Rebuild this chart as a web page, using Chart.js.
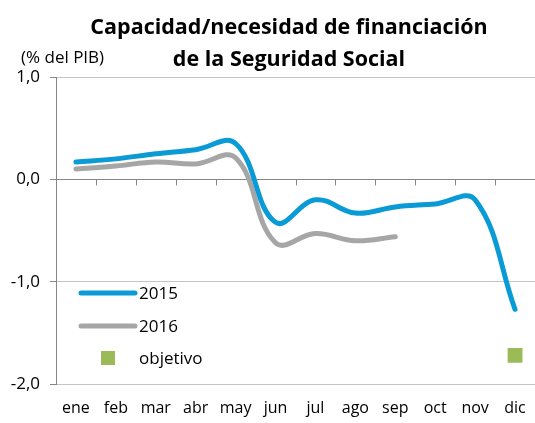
<!DOCTYPE html>
<html><head><meta charset="utf-8">
<script src="https://cdn.jsdelivr.net/npm/chart.js@4"></script>
<style>html,body{margin:0;padding:0;background:#fff}#wrap{width:535px;height:423px;position:relative}</style>
</head><body><div id="wrap"><canvas id="c" width="535" height="423"></canvas></div>
<script>
const categories = ['ene','feb','mar','abr','may','jun','jul','ago','sep','oct','nov','dic'];
const serie2015 = [0.17, 0.20, 0.25, 0.29, 0.35, -0.42, -0.20, -0.33, -0.27, -0.24, -0.20, -1.27];
const serie2016 = [0.10, 0.13, 0.17, 0.15, 0.21, -0.62, -0.53, -0.60, -0.56, null, null, null];
const objetivo = [null, null, null, null, null, null, null, null, null, null, null, -1.72];
const yTicks = [-2, -1, 0, 1];
const titleLines = ['Capacidad/necesidad de financiación', 'de la Seguridad Social'];
const unitLabel = '(% del PIB)';

const FONT = '"Open Sans", sans-serif';
const BLUE = '#0a9bd6', GRAY = '#a6a6a6', GREEN = '#9bbb59';

const decor = {
  id: 'decor',
  beforeDatasetsDraw(chart) {
    const ctx = chart.ctx, xs = chart.scales.x, ys = chart.scales.y;
    const y0 = ys.getPixelForValue(0);
    ctx.save();
    ctx.strokeStyle = '#868686'; ctx.lineWidth = 1;
    const n = categories.length, w = (xs.right - xs.left) / n;
    ctx.beginPath();
    for (let i = 1; i < n; i++) {
      const x = Math.round(xs.left + i * w) + 0.5;
      ctx.moveTo(x, y0); ctx.lineTo(x, y0 + 6);
    }
    ctx.stroke();
    ctx.restore();
  },
  afterDraw(chart) {
    const ctx = chart.ctx;
    ctx.save();
    ctx.fillStyle = '#000';
    ctx.textAlign = 'center'; ctx.textBaseline = 'alphabetic';
    ctx.font = 'bold 21.5px ' + FONT;
    ctx.fillText(titleLines[0], 289, 34);
    ctx.fillText(titleLines[1], 289, 66);
    ctx.font = '17px ' + FONT;
    ctx.textAlign = 'left';
    ctx.fillText(unitLabel, 21, 63);
    const items = [
      {label: chart.data.datasets[0].label, type: 'line', color: BLUE, y: 293},
      {label: chart.data.datasets[1].label, type: 'line', color: GRAY, y: 326},
      {label: chart.data.datasets[2].label, type: 'rect', color: GREEN, y: 358}
    ];
    ctx.textBaseline = 'middle';
    items.forEach(it => {
      if (it.type === 'line') {
        ctx.strokeStyle = it.color; ctx.lineWidth = 5; ctx.lineCap = 'round';
        ctx.beginPath(); ctx.moveTo(81, it.y); ctx.lineTo(135, it.y); ctx.stroke();
      } else {
        ctx.fillStyle = it.color;
        ctx.fillRect(101, it.y - 7, 14, 14);
      }
      ctx.fillStyle = '#000';
      ctx.fillText(it.label, 139, it.y + 1);
    });
    ctx.restore();
  }
};

new Chart(document.getElementById('c'), {
  type: 'line',
  data: {
    labels: categories,
    datasets: [
      {label: '2015', data: serie2015, borderColor: BLUE, borderWidth: 5, tension: 0.4, pointRadius: 0, borderCapStyle: 'round', fill: false},
      {label: '2016', data: serie2016, borderColor: GRAY, borderWidth: 5, tension: 0.4, pointRadius: 0, borderCapStyle: 'round', fill: false},
      {label: 'objetivo', data: objetivo, showLine: false, pointStyle: 'rect', pointRadius: 10.5, pointBackgroundColor: GREEN, pointBorderColor: GREEN, pointBorderWidth: 0, borderColor: GREEN}
    ]
  },
  options: {
    responsive: false, animation: false,
    layout: {autoPadding: false, padding: {top: 77, right: 0, left: 0, bottom: 0}},
    plugins: {legend: {display: false}, title: {display: false}, tooltip: {enabled: false}},
    scales: {
      x: {
        offset: true,
        grid: {display: false, drawTicks: false},
        border: {display: false},
        ticks: {color: '#000', font: {family: FONT, size: 16}, padding: 15, maxRotation: 0, autoSkip: false},
        afterFit(s) { s.height = 39; s.paddingLeft = 0; s.paddingRight = 0; }
      },
      y: {
        min: -2, max: 1,
        afterBuildTicks(s) { s.ticks = yTicks.map(v => ({value: v})); },
        grid: {color: ctx => ctx.tick && ctx.tick.value === 0 ? '#868686' : '#c4c4c4', tickColor: '#868686', tickLength: 6, lineWidth: 1},
        border: {display: true, color: '#868686', width: 1},
        ticks: {color: '#000', font: {family: FONT, size: 17}, padding: 10, callback: v => v.toFixed(1).replace('.', ',')},
        afterFit(s) { s.width = 56; s.paddingTop = 0; s.paddingBottom = 0; }
      }
    }
  },
  plugins: [decor]
});
</script></body></html>
